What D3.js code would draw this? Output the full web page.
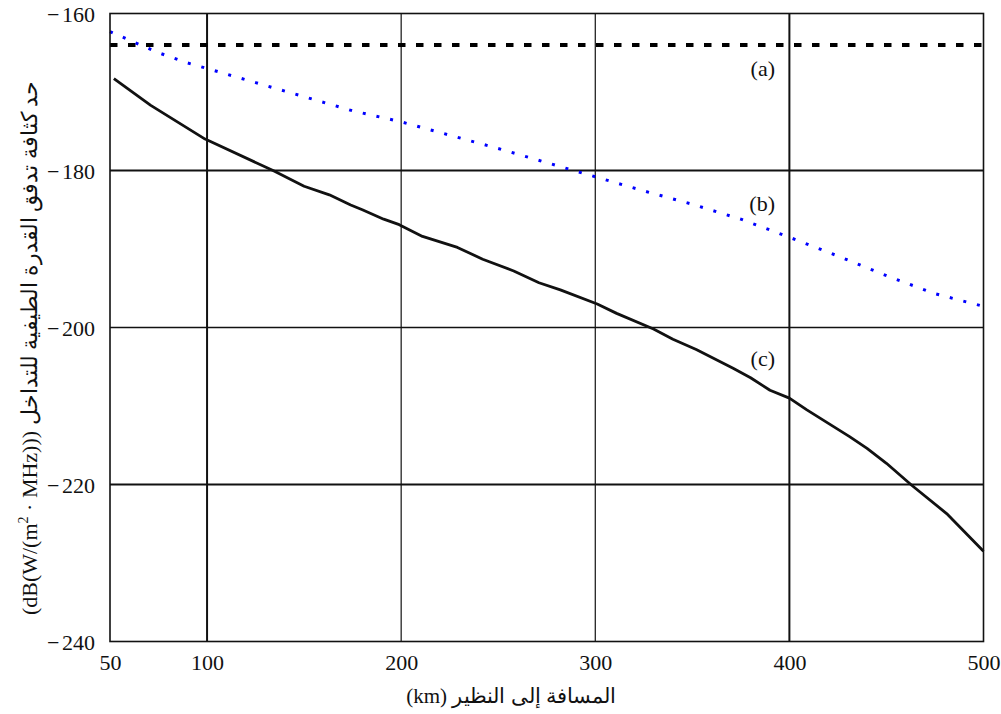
<!DOCTYPE html>
<html>
<head>
<meta charset="utf-8">
<script src="https://cdn.jsdelivr.net/npm/d3@7"></script>
<style>
  html, body { margin: 0; padding: 0; background: #fff; }
  svg { display: block; }
</style>
</head>
<body>
<svg id="chart" width="1001" height="714"></svg>
<script>
// ---- data ----
const xTicks = [50, 100, 200, 300, 400, 500];
const yTicks = [-240, -220, -200, -180, -160];

const distA = [50, 500];
const valA = [-164, -164];

const distB = [50, 60, 75, 90, 100, 125, 150, 175, 200, 225, 250, 275, 300, 325, 350, 375, 400, 425, 450, 475, 500];
const valB = [-162.3, -163.4, -165.0, -166.3, -167.0, -168.8, -170.6, -172.4, -173.8, -175.5, -177.2, -179.0, -180.8, -182.6, -184.3, -186.2, -188.5, -190.9, -193.4, -195.7, -197.3];

const distC = [52, 71, 99, 134, 150, 163, 174, 180, 191, 199, 211, 229, 242, 258, 271, 282, 301, 311, 330, 340, 352, 371, 380, 390, 400, 409, 431, 440, 450, 463, 481, 500];
const valC = [-168.3, -171.7, -176.0, -180.0, -182.0, -183.1, -184.4, -185.0, -186.2, -186.9, -188.4, -189.8, -191.3, -192.8, -194.3, -195.2, -197.0, -198.2, -200.2, -201.5, -202.8, -205.2, -206.4, -208.0, -209.0, -210.5, -213.9, -215.4, -217.3, -220.1, -223.7, -228.5];

const labels = ["(a)", "(b)", "(c)"];
const labelVals = [-168.0, -185.2, -204.9];
const labelDist = 392.6;

const xTitle = "(km) المسافة إلى النظير";
const yTitleLatinA = "(dB(W/(m";
const yTitleSup = "2";
const yTitleLatinB = " · MHz))) ";
const yTitleArabic = "حد كثافة تدفق القدرة الطيفية للتداخل";

// ---- layout ----
const svg = d3.select("#chart");
const L = 110, R = 983.5, T = 13.5, B = 641.5;
const x = d3.scaleLinear().domain([50, 500]).range([L, R]);
const y = d3.scaleLinear().domain([-240, -160]).range([B, T]);
const serif = "'Liberation Serif', 'Times New Roman', serif";

svg.append("rect").attr("width", 1001).attr("height", 714).attr("fill", "#fff");

// gridlines
const grid = svg.append("g");
grid.selectAll(".vg").data(xTicks.filter(d => d > 50 && d < 500)).join("line")
  .attr("x1", d => x(d)).attr("x2", d => x(d)).attr("y1", T).attr("y2", B)
  .attr("stroke", "#111").attr("stroke-width", d => (d === 100 || d === 400) ? 2 : 1.2);
grid.selectAll(".hg").data(yTicks.filter(d => d > -240 && d < -160)).join("line")
  .attr("x1", L).attr("x2", R).attr("y1", d => y(d)).attr("y2", d => y(d))
  .attr("stroke", "#111").attr("stroke-width", d => (d === -180 || d === -220) ? 2 : 1.5);

// axes
const xAxis = svg.append("g").attr("transform", `translate(0,${B})`)
  .call(d3.axisBottom(x).tickValues(xTicks).tickSize(0).tickFormat(d3.format("d")));
xAxis.select(".domain").remove();
xAxis.selectAll("text").attr("y", 28.5).attr("dy", 0)
  .attr("font-family", serif).attr("font-size", 22).attr("fill", "#111");

const yAxis = svg.append("g").attr("transform", `translate(${L},0)`)
  .call(d3.axisLeft(y).tickValues(yTicks).tickSize(0).tickPadding(15).tickFormat(() => ""));
yAxis.select(".domain").remove();
yAxis.selectAll("text").attr("dy", "0.36em")
  .attr("font-family", serif).attr("font-size", 22).attr("fill", "#111")
  .each(function(d) {
    const t = d3.select(this);
    t.text(null);
    t.append("tspan").text("\u2212");
    t.append("tspan").attr("dx", 2.5).text(String(Math.abs(d)));
  });

// series
const line = d3.line().x(d => x(d[0])).y(d => y(d[1]));
const plot = svg.append("g");

plot.append("path").datum(distC.map((d, i) => [d, valC[i]]))
  .attr("d", line).attr("fill", "none").attr("stroke", "#111")
  .attr("stroke-width", 2.8).attr("stroke-linejoin", "round");

plot.append("path").datum(distA.map((d, i) => [d, valA[i]]))
  .attr("d", line).attr("fill", "none").attr("stroke", "#000")
  .attr("stroke-width", 4).attr("stroke-dasharray", "7.5,10.5");

plot.append("path").datum(distB.map((d, i) => [d, valB[i]]))
  .attr("d", line).attr("fill", "none").attr("stroke", "#0000ff")
  .attr("stroke-width", 3).attr("stroke-dasharray", "3,11");

// border
svg.append("rect").attr("x", L).attr("y", T).attr("width", R - L).attr("height", B - T)
  .attr("fill", "none").attr("stroke", "#111").attr("stroke-width", 1.6);

// series labels
svg.selectAll(".lbl").data(labels).join("text")
  .attr("x", x(labelDist)).attr("y", (d, i) => y(labelVals[i]))
  .attr("text-anchor", "end").attr("font-family", serif).attr("font-size", 22)
  .attr("fill", "#111").text(d => d);

// x title
svg.append("text").attr("x", 511).attr("y", 703).attr("text-anchor", "middle")
  .attr("direction", "ltr").attr("font-family", serif).attr("font-size", 21)
  .attr("fill", "#111").text(xTitle);

// y title
const yt = svg.append("text")
  .attr("transform", "translate(37,348) rotate(-90)")
  .attr("text-anchor", "middle").attr("direction", "ltr")
  .attr("font-family", serif).attr("font-size", 22).attr("fill", "#111");
yt.append("tspan").text(yTitleLatinA);
yt.append("tspan").attr("dy", -9).attr("font-size", 14).text(yTitleSup);
yt.append("tspan").attr("dy", 9).text(yTitleLatinB);
yt.append("tspan").text(yTitleArabic);
</script>
</body>
</html>
